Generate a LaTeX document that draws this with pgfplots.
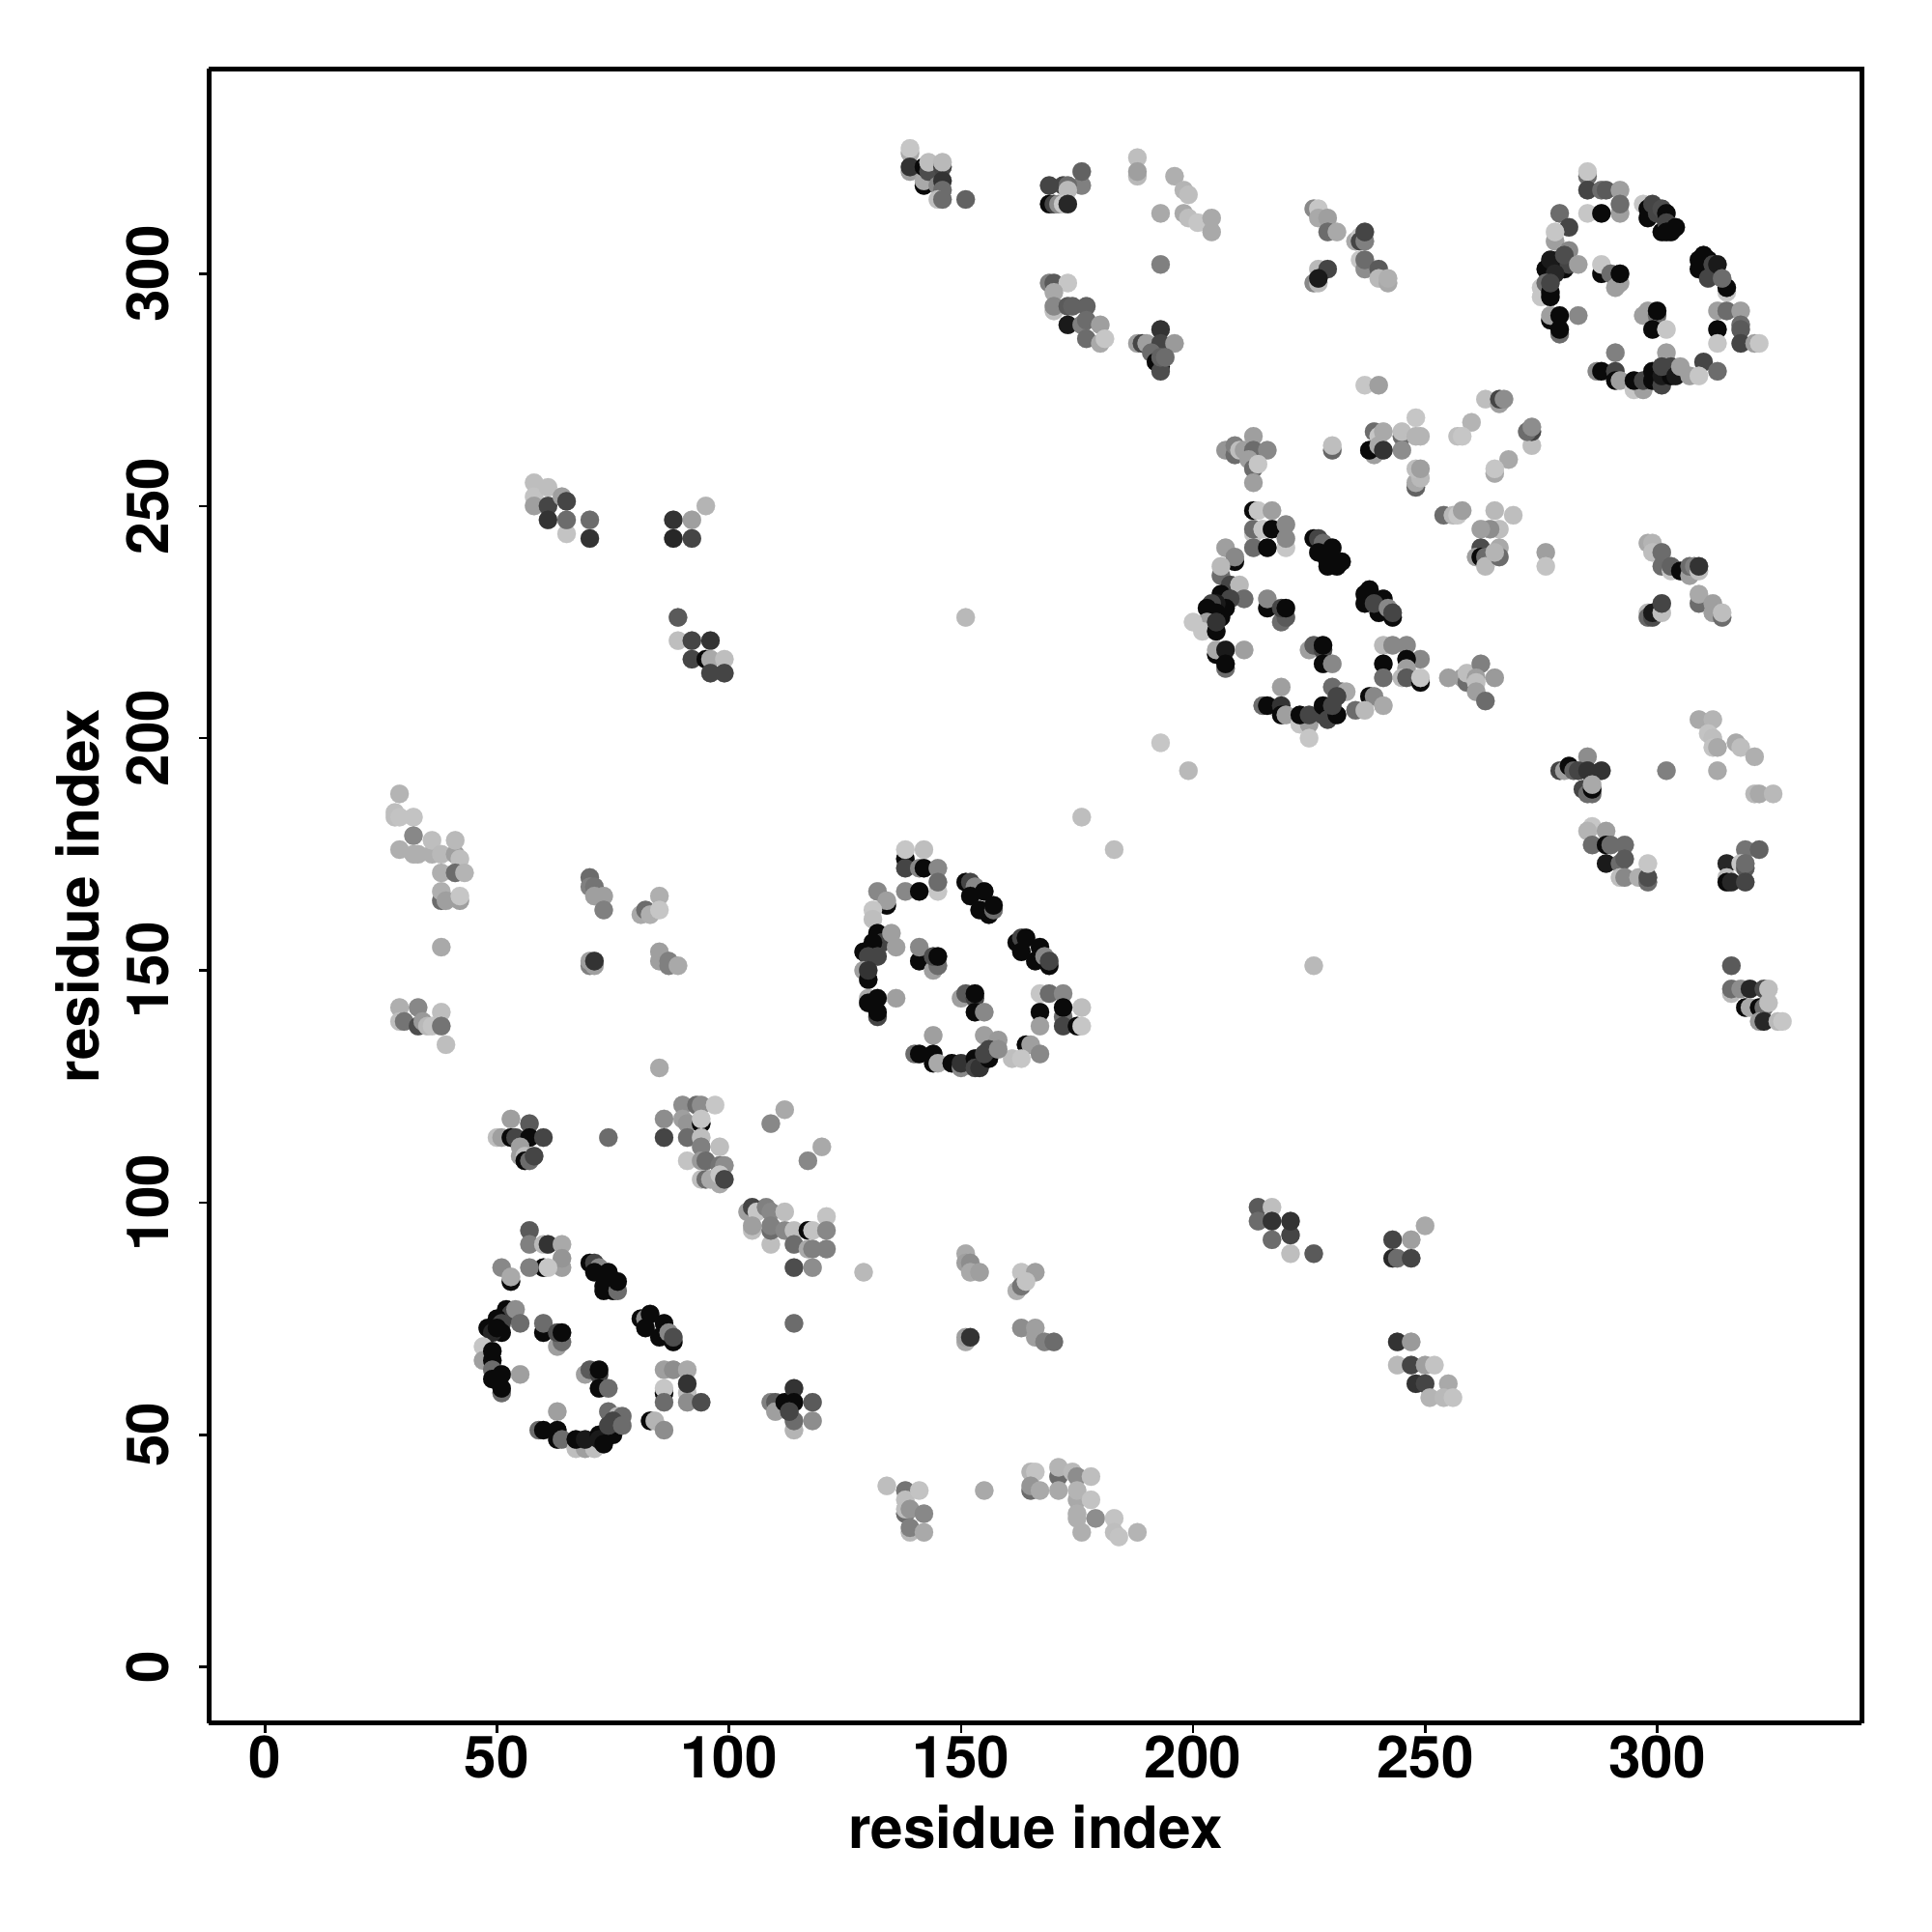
\documentclass[border=0pt]{standalone}
\usepackage{fontspec}
\setmainfont{TeX Gyre Heros}
\usepackage{pgfplots}
\pgfplotsset{compat=1.18}
\pgfplotsset{colormap={grayramp}{gray(0cm)=(0); gray(1cm)=(1)}}
\begin{document}
\begin{tikzpicture}
\useasboundingbox (-43.08pt,-43.08pt) rectangle (355.26pt,355.26pt);
\begin{axis}[
  at={(0pt,0pt)}, anchor=south west,
  scale only axis, width=340.78pt, height=341.04pt,
  xmin=-12.07, xmax=344.1, ymin=-12.07, ymax=344.1,
  axis line style={line width=1.1pt},
  axis x line*=bottom, axis y line*=left,
  separate axis lines,
  clip=false,
  xtick={0,50,100,150,200,250,300}, ytick={0,50,100,150,200,250,300},
  tick align=outside, tick style={black,line width=0.5pt},
  major tick length=2pt,
  xtick pos=bottom, ytick pos=left,
  /pgf/number format/assume math mode=true,
  tick label style={font=\fontsize{12pt}{14pt}\selectfont\bfseries},
  xticklabel style={inner sep=0pt, anchor=north, yshift=-0.4pt},
  yticklabel style={rotate=90, inner sep=0pt, anchor=south, yshift=6pt},
  xlabel={residue index}, ylabel={residue index},
  xlabel style={font=\fontsize{12pt}{14pt}\selectfont\bfseries, at={(axis description cs:0.5,-0.0627)}, anchor=center},
  ylabel style={font=\fontsize{12pt}{14pt}\selectfont\bfseries, at={(axis description cs:-0.0795,0.5)}, anchor=center},
  point meta min=0, point meta max=1, colormap name=grayramp,
]
\draw[line width=1.1pt] (rel axis cs:0,1) -- (rel axis cs:1,1) -- (rel axis cs:1,0);
\addplot[scatter, only marks, mark=*, mark size=1.9pt, point meta=explicit,
  mark options={line width=0.05pt},
  scatter/use mapped color={draw=mapped color, fill=mapped color}] coordinates {
% cluster 277-322
(285,321)[.42] (285,322)[.77] (285,318)[.27] (288,318)[.42] (289,318)[.35] (292,318)[.62] (292,313)[.62] (292,315)[.42] (285,313)[.77] (288,313)[.04] (279,313)[.42] (281,310)[.27] (278,307)[.62] (278,309)[.77] (281,305)[.53]
(278,302)[.04] (276,301)[.04] (277,300)[.04] (279,303)[.04] (280,301)[.04] (281,302)[.27] (277,303)[.1] (278,300)[.15] (280,304)[.3] (283,302)[.62]
(288,300)[.04] (288,302)[.77] (290,300)[.42] (292,298)[.62] (291,297)[.62] (292,300)[.04]
(275,297)[.77] (275,295)[.77] (276,298)[.42] (277,296)[.04] (277,295)[.04] (277,298)[.27]
(277,290)[.04] (277,291)[.62] (279,291)[.04] (283,291)[.53] (279,287)[.42] (279,288)[.04]
(297,291)[.62] (298,292)[.62] (300,291)[.42] (300,292)[.04] (299,288)[.04] (302,288)[.77]
(297,315)[.77] (298,314)[.04] (298,312)[.04] (300,313)[.27] (299,315)[.27] (301,314)[.3] (302,313)[.04] (301,309)[.04] (302,311)[.27] (302,309)[.04] (304,310)[.04] (303,309)[.04]
(310,304)[.04] (309,303)[.04] (309,301)[.04] (311,299)[.27] (311,303)[.04] (312,302)[.27] (313,302)[.1] (315,296)[.77] (315,297)[.04] (314,299)[.42]
(313,292)[.62] (315,292)[.42] (318,292)[.62] (318,289)[.42] (318,288)[.35] (313,288)[.04] (313,285)[.77] (318,285)[.27] (321,285)[.62] (322,285)[.77]
(291,283)[.5] (302,283)[.62] (310,281)[.27] (313,279)[.42] (287,279)[.53] (288,279)[.04] (291,279)[.27] (291,277)[.04] (292,277)[.62] (295,275)[.77] (297,275)[.62] (295,277)[.04] (297,277)[.27]
(299,279)[.04] (299,277)[.04] (301,276)[.27] (301,278)[.1] (303,278)[.04] (301,280)[.27] (303,280)[.27] (304,278)[.1] (305,280)[.62] (307,278)[.62] (309,278)[.77]
% cluster 205-250
(213,249)[.04] (214,249)[.77] (217,249)[.62] (213,244)[.77] (213,245)[.42] (215,245)[.77] (217,245)[.04] (220,246)[.53] (220,241)[.77] (220,243)[.53] (213,241)[.42] (216,241)[.04]
(207,241)[.62] (209,238)[.04] (209,239)[.53] (206,235)[.42] (206,237)[.72] (208,233)[.27] (210,233)[.72] (211,230)[.42]
(206,231)[.04] (208,230)[.27] (207,228)[.04] (205,229)[.1] (204,229)[.27] (205,227)[.04] (203,228)[.04] (206,226)[.04]
(203,225)[.62] (200,225)[.77] (202,223)[.77] (205,223)[.04] (205,225)[.2] (205,218)[.04] (205,219)[.66] (207,219)[.1] (211,219)[.62] (207,215)[.42] (207,216)[.04]
(216,228)[.04] (216,230)[.53] (219,225)[.42] (220,226)[.35] (219,228)[.27] (220,228)[.04]
(226,243)[.04] (227,243)[.27] (228,242)[.42] (227,240)[.04] (230,241)[.04] (229,238)[.04] (229,237)[.04] (231,237)[.04] (232,238)[.04]
(238,232)[.04] (237,231)[.04] (237,229)[.04] (240,227)[.04] (241,230)[.04] (239,229)[.27] (243,226)[.04] (242,228)[.53] (243,227)[.27]
(241,220)[.72] (243,220)[.53] (246,220)[.53] (249,217)[.53] (246,217)[.04] (246,215)[.62] (241,216)[.04] (241,213)[.42] (245,213)[.72] (246,213)[.35] (249,212)[.04] (249,213)[.77]
(225,219)[.62] (226,220)[.35] (228,219)[.27] (228,220)[.04] (228,216)[.04] (230,216)[.53]
(219,211)[.62] (230,211)[.42] (232,210)[.42] (233,210)[.66] (238,209)[.04] (239,209)[.53] (241,207)[.66]
(215,207)[.42] (216,207)[.04] (219,207)[.2] (219,205)[.04] (220,205)[.62] (223,203)[.77] (225,203)[.62] (223,205)[.04] (225,205)[.27] (225,200)[.77]
(228,205)[.27] (228,207)[.04] (229,204)[.27] (231,205)[.04] (230,207)[.27] (231,209)[.27] (235,206)[.42] (237,206)[.72]
(193,199)[.77] (199,193)[.72]
% cluster 130-176
(138,174)[.04] (138,176)[.77] (142,176)[.74] (138,172)[.27] (141,172)[.53] (142,172)[.04] (145,172)[.53] (145,167)[.77] (145,169)[.42] (138,167)[.53] (141,167)[.04]
(132,167)[.53] (134,164)[.04] (134,165)[.62] (131,163)[.77] (131,161)[.74]
(132,158)[.04] (133,156)[.27] (135,158)[.62] (136,155)[.62] (131,156)[.04] (132,153)[.27] (129,154)[.04] (130,153)[.27]
(129,150)[.62] (130,148)[.04] (130,150)[.2] (130,144)[.66] (130,143)[.04] (132,144)[.04] (136,144)[.62] (132,140)[.27] (132,141)[.04]
(141,152)[.04] (141,155)[.53] (144,150)[.62] (145,151)[.42] (144,153)[.3] (145,153)[.04]
(150,144)[.62] (151,145)[.35] (153,144)[.27] (153,145)[.04] (153,141)[.04] (155,141)[.53]
(151,169)[.04] (152,169)[.27] (153,168)[.53] (152,166)[.04] (155,167)[.04] (154,163)[.04] (156,162)[.04] (157,163)[.42] (157,164)[.04]
(162,156)[.04] (163,157)[.27] (164,157)[.04] (163,154)[.04] (166,152)[.04] (167,155)[.04] (168,153)[.53] (169,151)[.04] (169,152)[.27]
(167,145)[.77] (169,145)[.42] (172,145)[.53] (176,142)[.74] (172,140)[.42] (172,142)[.04] (167,141)[.04] (167,138)[.62] (172,138)[.27] (175,138)[.04] (176,138)[.77]
(144,136)[.62] (155,136)[.62] (158,135)[.6] (164,134)[.04] (165,134)[.62] (167,132)[.53] (161,131)[.74] (163,131)[.77]
(140,132)[.42] (141,132)[.04] (144,132)[.04] (144,130)[.04] (145,130)[.66] (148,130)[.04] (150,129)[.53] (150,130)[.2]
(153,131)[.04] (153,129)[.27] (154,129)[.2] (156,131)[.04] (155,132)[.27] (156,133)[.27] (158,133)[.55]
(176,183)[.74] (183,176)[.74]
% cluster 47-94
(57,94)[.35] (57,91)[.5] (60,91)[.72] (61,91)[.2] (64,91)[.66] (64,86)[.62] (64,88)[.58] (60,86)[.04] (61,86)[.77] (57,86)[.5]
(51,86)[.53] (53,83)[.04] (53,84)[.66] (52,77)[.04] (53,76)[.27] (54,77)[.55] (55,74)[.42]
(50,75)[.04] (51,74)[.27] (51,72)[.04] (48,73)[.04] (49,72)[.15] (50,73)[.04]
(47,69)[.77] (47,66)[.62] (49,68)[.04] (49,66)[.04] (49,64)[.42] (49,62)[.04] (51,63)[.04] (55,63)[.62] (51,59)[.42] (51,60)[.04]
(60,72)[.04] (60,74)[.42] (63,69)[.62] (64,70)[.42] (63,72)[.3] (64,72)[.04]
(69,63)[.62] (70,64)[.35] (72,63)[.27] (72,64)[.04] (72,60)[.04] (74,60)[.42]
(70,87)[.04] (71,87)[.27] (72,86)[.53] (71,85)[.04] (74,85)[.04] (73,82)[.04] (73,81)[.04] (75,81)[.04] (76,81)[.42] (76,83)[.04]
(81,75)[.04] (82,75)[.53] (83,76)[.04] (82,73)[.04] (85,71)[.04] (86,74)[.04] (87,72)[.53] (88,70)[.04] (88,71)[.3]
(86,64)[.62] (88,64)[.55] (91,64)[.66] (91,59)[.74] (91,61)[.2] (86,59)[.04] (86,60)[.77] (86,57)[.42] (91,57)[.55] (94,57)[.3]
(63,55)[.62] (74,55)[.42] (76,54)[.72] (77,54)[.42] (83,53)[.04] (84,53)[.7] (86,51)[.55]
(59,51)[.42] (60,51)[.04] (63,51)[.04] (63,49)[.04] (64,49)[.42] (67,47)[.74] (69,47)[.62] (71,47)[.74] (67,49)[.04] (69,49)[.1]
(72,50)[.04] (72,49)[.1] (73,48)[.04] (75,50)[.04] (74,52)[.27] (75,53)[.27] (77,52)[.42]
% top left cluster
(139,326)[.66] (139,327)[.77] (139,322)[.62] (139,323)[.2] (142,319)[.04] (142,320)[.66] (142,323)[.04] (143,322)[.3] (143,324)[.74] (146,323)[.27] (146,324)[.72] (145,319)[.53] (146,320)[.2] (146,318)[.42] (145,316)[.74] (146,316)[.42] (151,316)[.38]
(176,319)[.5] (176,322)[.38] (172,319)[.27] (173,319)[.42] (169,319)[.27] (169,315)[.04] (170,315)[.27] (171,315)[.55] (173,318)[.72] (172,315)[.77] (173,315)[.15]
(188,325)[.74] (188,321)[.72] (188,322)[.62] (196,321)[.68] (198,318)[.7] (199,317)[.74] (193,313)[.66] (198,313)[.66] (199,312)[.74] (201,311)[.77] (204,312)[.66] (204,309)[.66]
(193,302)[.5]
(169,298)[.5] (170,298)[.35] (173,298)[.77] (170,296)[.66] (170,292)[.74] (170,293)[.53] (173,293)[.35] (174,293)[.38] (177,293)[.38] (173,289)[.1] (176,289)[.5] (177,290)[.42] (180,289)[.62] (177,286)[.42] (180,285)[.66] (181,286)[.77]
(193,288)[.2] (188,285)[.62] (189,285)[.27] (190,285)[.62] (193,285)[.27] (196,285)[.6] (191,283)[.42] (192,281)[.04] (193,280)[.04] (193,279)[.3] (193,282)[.38] (194,282)[.42]
% 226-242, 298-314
(226,314)[.53] (227,314)[.77] (227,312)[.66] (229,312)[.62] (229,309)[.42] (231,309)[.66]
(227,301)[.72] (229,301)[.27] (226,298)[.53] (227,298)[.72] (227,299)[.1]
(235,307)[.66] (236,308)[.77] (236,307)[.27] (237,307)[.5] (237,309)[.27] (236,303)[.77] (237,301)[.55] (237,303)[.42] (240,301)[.35] (240,299)[.72] (242,298)[.66] (242,299)[.68]
% 207-276, 237-276
(237,276)[.77] (240,276)[.62]
(263,273)[.74] (266,272)[.62] (266,273)[.27] (267,273)[.55] (260,268)[.7] (257,265)[.74] (258,265)[.77]
(273,263)[.74] (273,266)[.27] (272,266)[.42] (273,267)[.55] (268,260)[.66] (265,257)[.66] (265,258)[.77]
(248,269)[.77] (245,265)[.42] (245,266)[.74] (238,262)[.62] (239,266)[.42] (240,265)[.77] (241,266)[.66] (248,265)[.7] (249,265)[.7]
(245,262)[.55] (239,261)[.62] (238,262)[.04] (240,263)[.66] (241,262)[.2]
(230,262)[.4] (230,263)[.74]
(213,265)[.62] (207,262)[.58] (209,261)[.42] (209,263)[.5] (210,262)[.74] (211,262)[.62] (213,262)[.42] (216,262)[.53] (212,260)[.62] (213,258)[.42] (214,259)[.77] (213,255)[.62]
(248,254)[.38] (248,255)[.66] (249,256)[.72] (248,258)[.74] (249,258)[.62]
(269,248)[.74] (265,249)[.72] (266,245)[.74] (264,245)[.55] (262,245)[.62]
(262,241)[.3] (261,239)[.62] (262,239)[.04] (263,239)[.42] (263,237)[.72] (266,241)[.66] (266,239)[.42] (265,240)[.7] (276,240)[.62] (276,237)[.76]
(254,248)[.42] (256,248)[.72] (257,248)[.77] (258,249)[.62]
(255,213)[.62] (258,213)[.62] (259,212)[.42] (259,214)[.74] (262,216)[.5] (261,213)[.62] (261,212)[.74] (265,213)[.6] (261,210)[.62] (263,208)[.42]
% 298-314, 226-242
(298,242)[.66] (299,242)[.7] (299,240)[.74] (301,240)[.42] (301,237)[.42] (303,236)[.77] (303,237)[.38]
(306,236)[.77] (305,236)[.04] (307,235)[.62] (307,237)[.42] (308,237)[.5] (309,236)[.74] (309,237)[.2]
(309,229)[.42] (309,231)[.66] (312,229)[.62] (312,227)[.62] (314,226)[.42] (314,227)[.74]
(298,227)[.72] (298,226)[.4] (299,226)[.3] (299,227)[.1] (301,227)[.74] (301,229)[.27]
% 279-327 right
(309,204)[.66] (312,204)[.7] (311,201)[.76] (312,200)[.74] (312,198)[.76] (313,198)[.66] (317,199)[.66] (318,198)[.74] (321,196)[.68] (313,193)[.66] (302,193)[.5]
(321,188)[.72] (322,188)[.66] (325,188)[.72]
(285,196)[.55] (279,193)[.27] (280,193)[.62] (281,194)[.04] (282,193)[.38] (283,193)[.27] (285,193)[.2] (288,193)[.2] (284,189)[.27] (285,188)[.42] (286,188)[.42] (286,189)[.04] (286,190)[.66]
(286,181)[.77] (285,180)[.7] (289,180)[.62] (286,177)[.42] (289,177)[.04] (290,177)[.42] (293,177)[.42] (289,173)[.1] (292,173)[.42] (293,174)[.35] (292,170)[.74] (293,170)[.53] (296,170)[.68] (298,169)[.42] (298,170)[.3] (298,173)[.77]
(319,176)[.45] (322,176)[.38] (315,173)[.15] (318,173)[.77] (319,172)[.35] (319,173)[.42] (315,170)[.74] (315,169)[.04] (316,169)[.15] (319,169)[.27]
(316,151)[.35] (316,145)[.72] (316,146)[.42] (318,146)[.55] (320,146)[.15] (323,146)[.3] (324,146)[.74] (319,142)[.04] (320,142)[.66] (322,142)[.04] (323,142)[.42] (324,143)[.74] (322,139)[.6] (323,139)[.15] (326,139)[.72] (327,139)[.77]
% left 28-43
(29,188)[.7] (28,184)[.74] (28,183)[.74] (29,183)[.76] (32,183)[.76] (32,179)[.53] (29,176)[.68] (32,175)[.68] (33,175)[.68] (36,175)[.68] (36,178)[.74] (38,175)[.72] (41,175)[.62] (41,178)[.72] (42,174)[.74]
(38,171)[.68] (41,171)[.42] (43,171)[.7] (38,165)[.42] (38,167)[.68] (39,165)[.62] (42,165)[.62] (42,166)[.77] (38,155)[.66]
(29,142)[.68] (29,139)[.74] (30,139)[.45] (33,142)[.53] (33,138)[.3] (34,139)[.6] (35,138)[.72] (36,138)[.76] (38,141)[.74] (38,138)[.45] (39,134)[.74]
(70,170)[.42] (70,168)[.5] (71,168)[.45] (71,166)[.62] (73,166)[.62] (73,163)[.5]
(85,166)[.68] (81,162)[.66] (82,163)[.42] (83,162)[.68] (85,163)[.77]
(70,151)[.5] (70,152)[.62] (71,151)[.62] (71,152)[.2]
(85,154)[.62] (85,152)[.62] (87,151)[.5] (87,152)[.5] (89,151)[.66] (85,129)[.66]
% 50-99, 105-120
(53,118)[.62] (57,117)[.35] (50,114)[.74] (51,114)[.62] (53,114)[.04] (54,114)[.27] (57,114)[.04] (60,114)[.27] (55,112)[.62] (55,110)[.62] (56,110)[.74] (56,109)[.04] (57,109)[.42] (58,110)[.27]
(74,114)[.42]
(86,118)[.55] (86,114)[.27] (90,121)[.55] (93,121)[.42] (94,121)[.55] (97,121)[.77] (90,118)[.62] (91,117)[.58] (94,117)[.04] (94,118)[.77] (91,114)[.42] (94,114)[.74] (94,112)[.5] (98,112)[.74]
(91,109)[.76] (94,109)[.6] (95,109)[.42] (98,108)[.45] (99,108)[.55] (94,105)[.74] (95,105)[.42] (96,105)[.66] (98,104)[.66] (98,106)[.77] (99,105)[.27]
(112,120)[.66] (109,117)[.53] (120,112)[.66] (117,109)[.53]
(104,98)[.62] (105,99)[.27] (106,98)[.77] (108,99)[.5] (109,98)[.53] (112,98)[.74] (105,94)[.74] (105,95)[.62] (109,91)[.74] (109,94)[.42] (109,95)[.5] (112,94)[.53] (114,94)[.74] (117,94)[.04] (118,94)[.76] (121,97)[.76] (121,94)[.53] (114,91)[.42] (117,90)[.66] (118,90)[.5] (121,90)[.5]
(114,86)[.3] (118,86)[.55] (129,85)[.72] (114,74)[.42]
(109,57)[.5] (110,57)[.35] (110,55)[.62] (112,57)[.04] (114,60)[.2] (114,51)[.7] (114,53)[.42] (114,57)[.04] (118,57)[.35] (118,53)[.55] (113,55)[.27]
% 151-188
(151,89)[.66] (151,87)[.62] (152,87)[.55] (152,85)[.66] (154,85)[.62]
(163,85)[.76] (166,85)[.62] (162,81)[.68] (163,82)[.45] (164,83)[.76]
(151,70)[.66] (151,71)[.62] (152,71)[.2]
(163,73)[.55] (166,73)[.62] (166,71)[.62] (168,70)[.5] (170,70)[.42]
(134,39)[.74] (138,38)[.45] (138,36)[.74] (141,38)[.76] (138,33)[.42] (138,34)[.74] (139,34)[.58] (142,33)[.53] (139,29)[.72] (139,30)[.5] (142,29)[.66]
(155,38)[.66]
(165,42)[.7] (166,42)[.76] (165,38)[.42] (165,39)[.58] (167,38)[.66] (171,41)[.42] (171,43)[.7] (171,38)[.66] (174,42)[.72] (175,41)[.55] (178,41)[.74] (175,36)[.66] (175,38)[.7] (178,36)[.76] (175,33)[.68] (175,32)[.68] (179,32)[.55] (176,29)[.68] (183,32)[.76] (183,29)[.74] (184,28)[.76] (188,29)[.7]
% 214-256, 58-99
(214,99)[.35] (214,96)[.42] (217,99)[.74] (217,92)[.42] (217,96)[.2] (221,89)[.74] (221,93)[.27] (221,96)[.2] (226,89)[.35]
(243,92)[.27] (243,88)[.15] (244,88)[.42] (247,92)[.62] (247,88)[.27] (250,95)[.66]
(244,70)[.2] (247,70)[.6] (244,65)[.72] (247,65)[.27] (248,61)[.2] (250,65)[.62] (252,65)[.76] (250,61)[.27] (251,58)[.7] (255,61)[.66] (254,58)[.72] (256,58)[.76]
% mirror 58-99, 214-255
(58,255)[.74] (58,252)[.76] (58,250)[.62] (61,254)[.74] (61,250)[.27] (61,247)[.2] (64,252)[.62] (65,251)[.27] (65,244)[.76] (65,247)[.42] (70,243)[.2] (70,247)[.42]
(88,247)[.2] (88,243)[.15] (92,247)[.62] (92,243)[.27] (95,250)[.7]
(89,226)[.35] (89,221)[.74] (92,221)[.27] (96,221)[.2] (92,217)[.27] (95,217)[.04] (96,217)[.66] (99,217)[.74] (96,214)[.27] (99,214)[.27]
% sparse
(151,226)[.72] (226,151)[.72]
};
\end{axis}
\end{tikzpicture}
\end{document}
